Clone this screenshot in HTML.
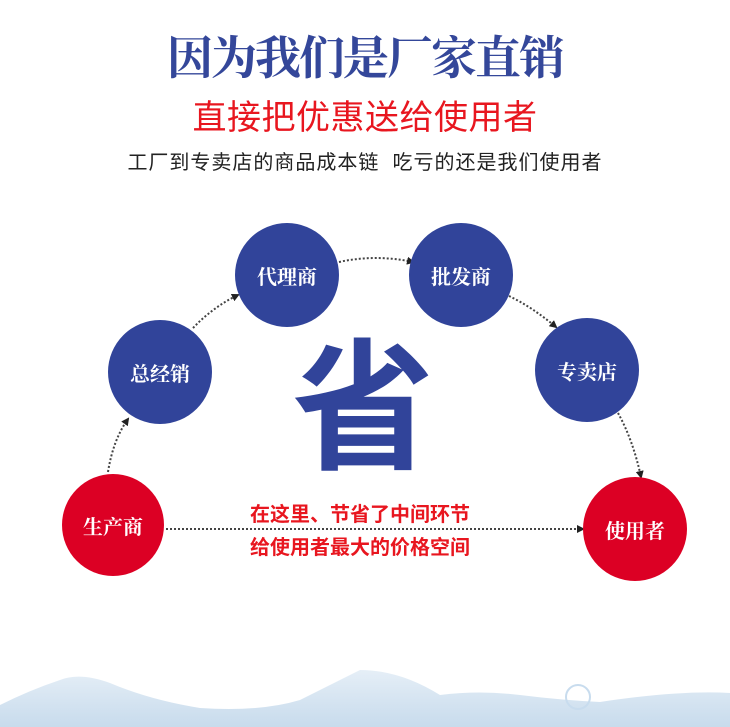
<!DOCTYPE html>
<html><head><meta charset="utf-8"><style>
html,body{margin:0;padding:0;background:#fff;}
body{width:730px;height:727px;position:relative;overflow:hidden;font-family:"Liberation Sans","Noto Sans CJK SC",sans-serif;}
.t{position:absolute;left:0;width:730px;text-align:center;white-space:nowrap;}
.c{position:absolute;border-radius:50%;color:#fff;font-family:"Liberation Serif","Noto Serif CJK SC",serif;font-weight:bold;font-size:20px;display:flex;align-items:center;justify-content:center;}
</style></head><body>
<div class="t" style="top:32px;font-family:'Liberation Serif','Noto Serif CJK SC',serif;font-weight:bold;font-size:46px;line-height:54px;color:#34479a;letter-spacing:-2px;">因为我们是厂家直销</div>
<div class="t" style="top:97px;font-size:34px;line-height:42px;color:#e8161f;letter-spacing:0.5px;">直接把优惠送给使用者</div>
<div class="t" style="top:151px;font-size:20px;line-height:24px;color:#222;letter-spacing:1px;">工厂到专卖店的商品成本链&nbsp;&nbsp;吃亏的还是我们使用者</div>

<svg width="730" height="727" style="position:absolute;left:0;top:0">
<defs>
<marker id="a" markerWidth="8" markerHeight="8" refX="6" refY="4" orient="auto" markerUnits="userSpaceOnUse"><path d="M0,0 L8,4 L0,8 z" fill="#222"/></marker>
<linearGradient id="w" x1="0" y1="0" x2="0" y2="1"><stop offset="0" stop-color="#dde9f4"/><stop offset="1" stop-color="#b5cfe6"/></linearGradient>
</defs>
<g stroke="#444" stroke-width="2" stroke-dasharray="2,2" fill="none" marker-end="url(#a)">
<path d="M108,472 Q113,440 128,419"/>
<path d="M193,328 Q213,307 238,295"/>
<path d="M339,262 Q376,254 413,262"/>
<path d="M509,296 Q532,307 556,327"/>
<path d="M618,413 Q633,440 641,477"/>
<path d="M166,529 L583,529"/>
</g>
<path d="M0,727 L0,705 Q30,690 60,680 Q80,672 110,683 Q150,700 200,708 Q260,712 300,700 Q340,680 360,670 Q400,670 440,695 Q480,690 520,695 Q560,700 600,702 Q680,690 730,693 L730,727 Z" fill="url(#w)" opacity="0.75"/>
<circle cx="578" cy="697" r="12" fill="none" stroke="#c8dcee" stroke-width="2"/>
</svg>

<div class="c" style="left:62px;top:474px;width:102px;height:102px;background:#dc0024;">生产商</div>
<div class="c" style="left:108px;top:320px;width:104px;height:104px;background:#31449a;">总经销</div>
<div class="c" style="left:235px;top:223px;width:104px;height:104px;background:#31449a;">代理商</div>
<div class="c" style="left:409px;top:223px;width:104px;height:104px;background:#31449a;">批发商</div>
<div class="c" style="left:535px;top:318px;width:104px;height:104px;background:#31449a;">专卖店</div>
<div class="c" style="left:583px;top:477px;width:104px;height:104px;background:#dc0024;">使用者</div>

<div style="position:absolute;left:292px;top:330px;width:140px;text-align:center;font-size:142px;line-height:160px;font-weight:bold;color:#31449a;">省</div>
<div style="position:absolute;left:250px;top:503px;font-size:20px;line-height:24px;font-weight:bold;color:#e8161f;white-space:nowrap;">在这里、节省了中间环节</div>
<div style="position:absolute;left:250px;top:536px;font-size:20px;line-height:24px;font-weight:bold;color:#e8161f;white-space:nowrap;">给使用者最大的价格空间</div>
</body></html>
